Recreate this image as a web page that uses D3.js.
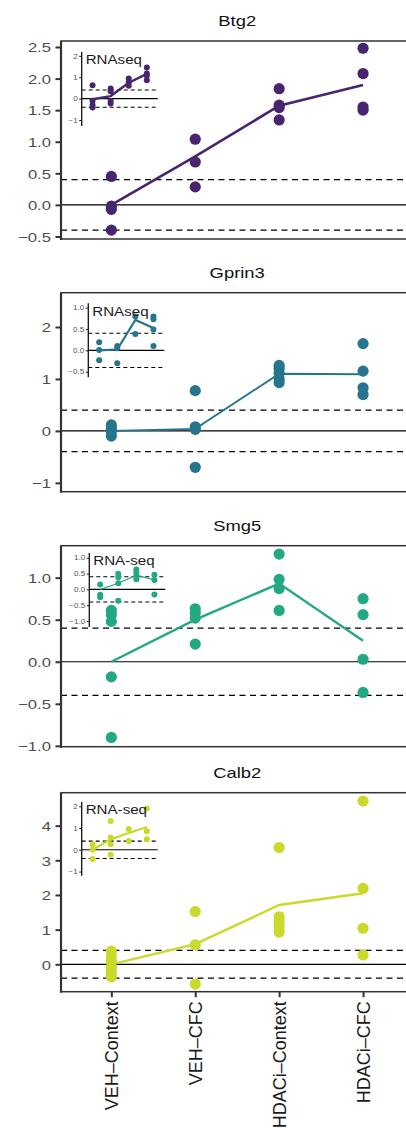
<!DOCTYPE html>
<html><head><meta charset="utf-8">
<script src="https://cdn.jsdelivr.net/npm/d3@7"></script>
<style>body{margin:0;background:#fff;} svg{display:block;font-family:"Liberation Sans",Arial,Helvetica,sans-serif;}</style>
</head><body><div id="chart"></div>
<script>
const categories = ["VEH–Context","VEH–CFC","HDACi–Context","HDACi–CFC"];
const genes = ["Btg2","Gprin3","Smg5","Calb2"];
const insetTitles = ["RNAseq","RNAseq","RNA-seq","RNA-seq"];

// main (qPCR) values per category
const btg2Main = [[0.45,-0.02,-0.07,-0.40],[1.04,0.68,0.285],[1.84,1.58,1.54,1.345],[2.48,2.08,1.55,1.50]];
const btg2MainLine = [0.0,0.77,1.57,1.90];
const btg2Inset = [[0.62,-0.1,-0.3,-0.42],[0.47,0.35,-0.11,-0.23],[0.94,0.77,0.6],[1.46,1.17,1.07,0.86]];
const btg2InsetLine = [-0.03,0.12,0.74,1.16];

const gprin3Main = [[0.115,0.05,-0.01,-0.1],[0.775,0.08,0.03,-0.70],[1.26,1.2,1.11,1.0,0.93],[1.68,1.15,0.83,0.70]];
const gprin3MainLine = [0.0,0.04,1.10,1.09];
const gprin3Inset = [[0.19,0.01,-0.23],[0.10,0.05,-0.30],[0.79,0.38],[0.79,0.73,0.49,0.10]];
const gprin3InsetLine = [0.0,0.02,0.71,0.52];

const smg5Main = [[0.61,0.56,0.48,-0.18,-0.90],[0.63,0.58,0.52,0.21],[1.28,0.98,0.87,0.61],[0.75,0.56,0.03,-0.365]];
const smg5MainLine = [0.0,0.5,0.93,0.25];
const smg5Inset = [[0.15,-0.17,-0.25],[0.49,0.38,0.19,-0.36],[0.63,0.53,0.42,0.32],[0.46,0.30,-0.16]];
const smg5InsetLine = [0.0,0.19,0.45,0.30];

const calb2Main = [[0.38,0.22,0.08,-0.09,-0.23,-0.36],[1.52,0.56,-0.57],[3.37,1.37,1.23,1.09,0.93],[4.71,2.19,1.04,0.27]];
const calb2MainLine = [0.0,0.58,1.71,2.05];
const calb2Inset = [[0.25,0.0,-0.42],[1.32,0.56,0.25,-0.23],[0.95,0.40],[1.9,0.85,0.48]];
const calb2InsetLine = [0.0,0.48,0.77,1.05];

// tick labels
const btg2Ticks = [-0.5,0,0.5,1,1.5,2,2.5];
const gprin3Ticks = [-1,0,1,2];
const smg5Ticks = [-1,-0.5,0,0.5,1];
const calb2Ticks = [0,1,2,3,4];
const btg2InsetTicks = [-1,0,1,2];
const gprin3InsetTicks = [-0.5,0,0.5,1];
const smg5InsetTicks = [-1,-0.5,0,0.5,1];
const calb2InsetTicks = [-1,0,1,2];
const thresholds = [-0.4,0.4];

// layout & style (not data)
const layout = [
  {top:41, bottom:239, domain:[-0.54,2.595], fmt:".1f", iFmt:"d", iX:81.7, iTop:52, iDomain:[-1.28,2.18], color:"#47256f", lw:2.6, ilw:2.4},
  {top:292.7, bottom:491.7, domain:[-1.17,2.66], fmt:"d", iFmt:".1f", iX:88.3, iTop:303.3, iDomain:[-0.63,1.10], color:"#26758c", lw:1.9, ilw:2.2},
  {top:545.7, bottom:746.7, domain:[-1.01,1.38], fmt:".1f", iFmt:".1f", iX:89.3, iTop:553, iDomain:[-1.19,1.15], color:"#23a884", lw:2.4, ilw:1.1},
  {top:792.7, bottom:991.7, domain:[-0.79,4.95], fmt:"d", iFmt:"d", iX:81.7, iTop:801.7, iDomain:[-1.19,2.21], color:"#c9da2a", lw:2.4, ilw:2.2}
];
const mains = [btg2Main,gprin3Main,smg5Main,calb2Main];
const mainLines = [btg2MainLine,gprin3MainLine,smg5MainLine,calb2MainLine];
const insets = [btg2Inset,gprin3Inset,smg5Inset,calb2Inset];
const insetLines = [btg2InsetLine,gprin3InsetLine,smg5InsetLine,calb2InsetLine];
const mainTicks = [btg2Ticks,gprin3Ticks,smg5Ticks,calb2Ticks];
const insetTicks = [btg2InsetTicks,gprin3InsetTicks,smg5InsetTicks,calb2InsetTicks];

const W = 406, H = 1128;
const L = 61, R = 413.4;
const SX = 1.28;

const svg = d3.select("#chart").append("svg").attr("width", W).attr("height", H);
svg.append("rect").attr("width", W).attr("height", H).attr("fill", "#fff");

const x = d3.scalePoint().domain(categories).range([L, R]).padding(0.6);

genes.forEach((gene, gi) => {
  const c = layout[gi];
  const g = svg.append("g");
  const y = d3.scaleLinear().domain(c.domain).range([c.bottom, c.top]);

  // title
  g.append("text").attr("transform", `translate(${(L+R)/2},${c.top-14.8}) scale(${SX},1)`)
    .attr("text-anchor","middle").attr("font-size",14.4).attr("fill","#111").text(gene);

  // reference lines
  g.append("line").attr("x1",L).attr("x2",R).attr("y1",y(0)).attr("y2",y(0))
    .attr("stroke","#000").attr("stroke-width",1.2);
  thresholds.forEach(t => g.append("line").attr("x1",L).attr("x2",R).attr("y1",y(t)).attr("y2",y(t))
    .attr("stroke","#000").attr("stroke-width",1.3).attr("stroke-dasharray","6,4.5"));

  // mean line
  const line = d3.line().x((d,i)=>x(categories[i])).y(d=>y(d));
  g.append("path").attr("d", line(mainLines[gi])).attr("fill","none")
    .attr("stroke",c.color).attr("stroke-width",c.lw);
  // points
  mains[gi].forEach((vals, ci) => {
    g.selectAll(null).data(vals).enter().append("circle")
      .attr("cx", x(categories[ci])).attr("cy", d=>y(d)).attr("r",5.6).attr("fill",c.color);
  });

  // border
  g.append("rect").attr("x",L).attr("y",c.top).attr("width",R-L).attr("height",c.bottom-c.top)
    .attr("fill","none").attr("stroke","#333").attr("stroke-width",1.5);
  g.append("line").attr("x1",L).attr("x2",L).attr("y1",c.top).attr("y2",c.bottom+1)
    .attr("stroke","#333").attr("stroke-width",2.2);

  // y axis
  const ax = g.append("g").attr("transform",`translate(${L},0)`)
    .call(d3.axisLeft(y).tickValues(mainTicks[gi]).tickSize(5.5).tickFormat(d3.format(c.fmt)));
  ax.select(".domain").remove();
  ax.selectAll(".tick line").attr("stroke","#333").attr("stroke-width",2);
  ax.selectAll(".tick text").attr("x",null).attr("dy",null)
    .attr("transform",`translate(-10,0) scale(${SX},1)`)
    .attr("dominant-baseline","central")
    .attr("font-size",13).attr("fill","#4d4d4d").attr("font-family","Liberation Sans, Arial, sans-serif");

  // inset
  const ig = svg.append("g");
  const iW = 76, iH = 74;
  const ix = d3.scalePoint().domain(categories).range([c.iX, c.iX+iW]).padding(0.6);
  const iy = d3.scaleLinear().domain(c.iDomain).range([c.iTop+iH, c.iTop]);
  ig.append("line").attr("x1",c.iX).attr("x2",c.iX+iW).attr("y1",iy(0)).attr("y2",iy(0))
    .attr("stroke","#000").attr("stroke-width",1.1);
  thresholds.forEach(t => ig.append("line").attr("x1",c.iX).attr("x2",c.iX+iW).attr("y1",iy(t)).attr("y2",iy(t))
    .attr("stroke","#000").attr("stroke-width",1.1).attr("stroke-dasharray","4,3"));
  const iline = d3.line().x((d,i)=>ix(categories[i])).y(d=>iy(d));
  ig.append("path").attr("d", iline(insetLines[gi])).attr("fill","none")
    .attr("stroke",c.color).attr("stroke-width",c.ilw);
  insets[gi].forEach((vals, ci) => {
    ig.selectAll(null).data(vals).enter().append("circle")
      .attr("cx", ix(categories[ci])).attr("cy", d=>iy(d)).attr("r",3).attr("fill",c.color);
  });
  const iax = ig.append("g").attr("transform",`translate(${c.iX},0)`)
    .call(d3.axisLeft(iy).tickValues(insetTicks[gi]).tickSize(2.5).tickFormat(d3.format(c.iFmt)));
  iax.select(".domain").remove();
  iax.selectAll(".tick line").attr("stroke","#222").attr("stroke-width",1);
  iax.selectAll(".tick text").attr("x",null).attr("dy",null)
    .attr("transform",`translate(-4,0) scale(1.25,1)`)
    .attr("dominant-baseline","central")
    .attr("font-size",6.5).attr("fill","#555").attr("font-family","Liberation Sans, Arial, sans-serif");
  ig.append("line").attr("x1",c.iX).attr("x2",c.iX).attr("y1",c.iTop).attr("y2",c.iTop+iH)
    .attr("stroke","#111").attr("stroke-width",1.3);
  ig.append("text").attr("transform",`translate(${c.iX+4},${c.iTop+12.3}) scale(1.2,1)`)
    .attr("font-size",12.6).attr("fill","#1a1a1a").text(insetTitles[gi]);
});

// bottom x axis (last panel only)
const last = layout[layout.length-1];
const xa = svg.append("g").attr("transform",`translate(0,${last.bottom})`)
  .call(d3.axisBottom(x).tickSize(5.5));
xa.select(".domain").remove();
xa.selectAll(".tick line").attr("stroke","#333").attr("stroke-width",2);
xa.selectAll(".tick text").attr("y",null).attr("dy",null)
  .attr("transform","translate(0,9.5) rotate(-90)")
  .attr("text-anchor","end").attr("dominant-baseline","central")
  .attr("font-size",18).attr("fill","#1a1a1a").attr("font-family","Liberation Sans, Arial, sans-serif");
</script></body></html>
